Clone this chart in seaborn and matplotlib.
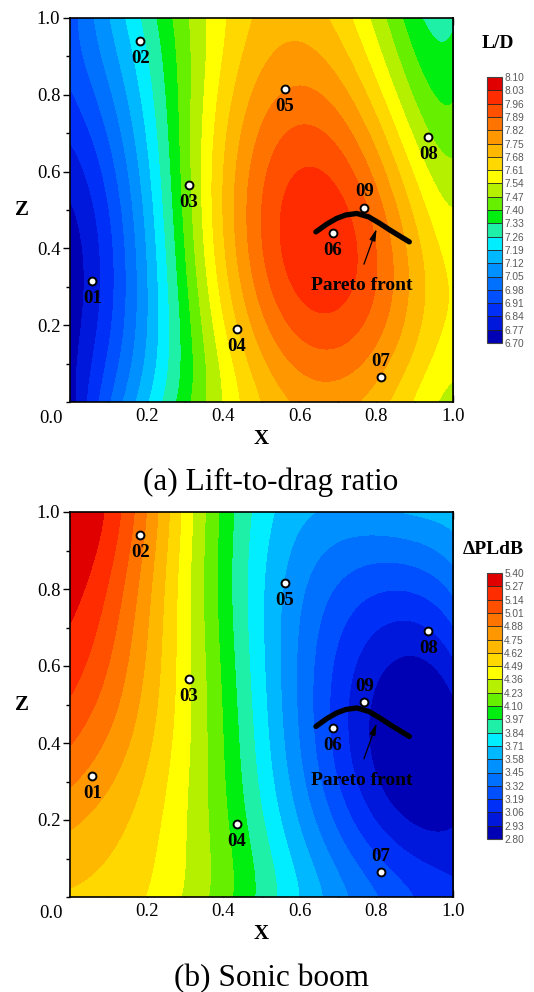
import numpy as np
import pandas as pd
import seaborn as sns
import matplotlib
matplotlib.use('Agg')
import matplotlib.pyplot as plt
from matplotlib.ticker import MultipleLocator

sns.set_style('ticks')
plt.rcParams['font.family'] = ['Liberation Serif', 'DejaVu Serif']
plt.rcParams['text.color'] = 'black'
plt.rcParams['axes.labelcolor'] = 'black'
plt.rcParams['xtick.color'] = 'black'
plt.rcParams['ytick.color'] = 'black'

x_grid = [0.0, 0.1, 0.2, 0.3, 0.4, 0.5, 0.6, 0.7, 0.8, 0.9, 1.0]
z_grid = [0.0, 0.1, 0.2, 0.3, 0.4, 0.5, 0.6, 0.7, 0.8, 0.9, 1.0]

# lift-to-drag ratio, one row per z value
ld_values = [
    [6.76, 6.92, 7.17, 7.38, 7.57, 7.67, 7.76, 7.77, 7.72, 7.62, 7.50],
    [6.74, 6.90, 7.15, 7.37, 7.58, 7.71, 7.83, 7.83, 7.78, 7.68, 7.56],
    [6.72, 6.88, 7.14, 7.38, 7.60, 7.76, 7.92, 7.92, 7.84, 7.72, 7.60],
    [6.72, 6.88, 7.14, 7.38, 7.61, 7.81, 8.04, 8.00, 7.86, 7.72, 7.60],
    [6.73, 6.89, 7.13, 7.39, 7.62, 7.85, 8.10, 8.03, 7.85, 7.70, 7.58],
    [6.76, 6.92, 7.14, 7.41, 7.64, 7.86, 8.09, 8.00, 7.82, 7.66, 7.55],
    [6.80, 6.96, 7.15, 7.44, 7.66, 7.85, 8.01, 7.93, 7.75, 7.60, 7.50],
    [6.85, 7.00, 7.18, 7.45, 7.66, 7.81, 7.91, 7.86, 7.69, 7.54, 7.44],
    [6.89, 7.04, 7.21, 7.45, 7.65, 7.77, 7.83, 7.79, 7.63, 7.48, 7.39],
    [6.93, 7.08, 7.24, 7.45, 7.64, 7.72, 7.76, 7.71, 7.56, 7.42, 7.34],
    [6.96, 7.10, 7.26, 7.46, 7.63, 7.69, 7.70, 7.65, 7.51, 7.38, 7.30],
]

# sonic boom loudness, one row per z value
boom_values = [
    [4.62, 4.56, 4.48, 4.32, 4.17, 3.95, 3.72, 3.48, 3.32, 3.18, 3.08],
    [4.67, 4.61, 4.52, 4.38, 4.17, 3.90, 3.60, 3.40, 3.22, 3.08, 3.02],
    [4.77, 4.69, 4.56, 4.38, 4.13, 3.85, 3.56, 3.30, 3.08, 2.91, 2.88],
    [4.90, 4.79, 4.60, 4.40, 4.08, 3.80, 3.50, 3.20, 2.94, 2.82, 2.83],
    [5.02, 4.87, 4.64, 4.38, 4.07, 3.80, 3.48, 3.10, 2.85, 2.81, 2.84],
    [5.12, 4.94, 4.68, 4.40, 4.08, 3.78, 3.48, 3.10, 2.84, 2.82, 2.91],
    [5.20, 5.01, 4.74, 4.40, 4.05, 3.75, 3.50, 3.20, 2.86, 2.92, 3.05],
    [5.26, 5.06, 4.80, 4.41, 4.03, 3.70, 3.49, 3.27, 2.98, 3.08, 3.18],
    [5.32, 5.11, 4.85, 4.42, 4.02, 3.66, 3.48, 3.32, 3.20, 3.22, 3.32],
    [5.36, 5.14, 4.89, 4.44, 4.03, 3.72, 3.55, 3.44, 3.40, 3.42, 3.50],
    [5.38, 5.17, 4.92, 4.46, 4.05, 3.78, 3.62, 3.55, 3.55, 3.58, 3.65],
]

ld_levels = [6.70, 6.77, 6.84, 6.91, 6.98, 7.05, 7.12, 7.19, 7.26, 7.33, 7.40,
             7.47, 7.54, 7.61, 7.68, 7.75, 7.82, 7.89, 7.96, 8.03, 8.10]
boom_levels = [2.80, 2.93, 3.06, 3.19, 3.32, 3.45, 3.58, 3.71, 3.84, 3.97, 4.10,
               4.23, 4.36, 4.49, 4.62, 4.75, 4.88, 5.01, 5.14, 5.27, 5.40]

# design points
point_names = ['01', '02', '03', '04', '05', '06', '07', '08', '09']
point_x = [0.058, 0.183, 0.31, 0.435, 0.561, 0.686, 0.811, 0.936, 0.768]
point_z = [0.315, 0.94, 0.565, 0.189, 0.815, 0.439, 0.064, 0.691, 0.506]
label_side = ['below', 'below', 'below', 'below', 'below', 'below', 'above', 'below', 'above']

# pareto front
pareto_x = [0.642, 0.67, 0.696, 0.72, 0.749, 0.78, 0.809, 0.835, 0.853, 0.886]
pareto_z = [0.443, 0.463, 0.478, 0.487, 0.491, 0.482, 0.465, 0.448, 0.437, 0.417]

x_ticks = [0.0, 0.2, 0.4, 0.6, 0.8, 1.0]
x_ticklabels = ['', '0.2', '0.4', '0.6', '0.8', '1.0']
z_ticks = [0.2, 0.4, 0.6, 0.8, 1.0]
z_ticklabels = ['0.2', '0.4', '0.6', '0.8', '1.0']

# tecplot-like banded rainbow
band_colors = ['#0000b4', '#0018dc', '#0030f8', '#0050ff', '#0070ff',
               '#0090ff', '#00b8ff', '#00eeff', '#1ef0a8', '#00ee10',
               '#66f000', '#b4f000', '#ffff00', '#ffd800', '#ffb800',
               '#ff9800', '#ff7400', '#ff5000', '#ff2c00', '#e00000']

pts = pd.DataFrame({'name': point_names, 'x': point_x, 'z': point_z, 'side': label_side})

W, H = 534, 992
fig = plt.figure(figsize=(W / 100, H / 100), dpi=100)


def px_box(left, top, right, bottom):
    return [left / W, 1 - bottom / H, (right - left) / W, (bottom - top) / H]


# smooth surface through the read grid (least squares, like a response surface)
gx, gz = np.meshgrid(x_grid, z_grid)
xf, zf = np.meshgrid(np.linspace(0, 1, 301), np.linspace(0, 1, 301))
powers = [(i, j) for i in range(7) for j in range(7) if i + j <= 6]


def smooth(values):
    A = np.column_stack([gx.ravel() ** i * gz.ravel() ** j for i, j in powers])
    coef, *_ = np.linalg.lstsq(A, np.array(values).ravel(), rcond=None)
    return sum(c * xf ** i * zf ** j for c, (i, j) in zip(coef, powers))


def panel(ax, cax, values, levels, cbar_title, title_xy, caption, caption_y):
    field = np.clip(smooth(values), levels[0] + 1e-6, levels[-1] - 1e-6)
    cs = ax.contourf(xf, zf, field, levels=levels, colors=band_colors)

    # pareto front and arrow
    sns.lineplot(x=pareto_x, y=pareto_z, ax=ax, color='black', lw=3.8, sort=False,
                 solid_capstyle='round', zorder=4)
    ax.annotate('', xy=(0.803, 0.458), xytext=(0.765, 0.352),
                arrowprops=dict(arrowstyle='-|>,head_length=0.7,head_width=0.18',
                                color='black', lw=0.9), zorder=4)
    ax.text(0.762, 0.303, 'Pareto front', ha='center', va='center',
            fontsize=14, fontweight='bold')

    sns.scatterplot(data=pts, x='x', y='z', ax=ax, s=32, color='white',
                    edgecolor='black', linewidth=1.4, zorder=5, legend=False)
    for _, r in pts.iterrows():
        dy = -12.5 if r['side'] == 'below' else 11.5
        ax.annotate(r['name'], (r['x'], r['z']), xytext=(0, dy), textcoords='offset points',
                    ha='center', va='center', fontsize=13.5, fontweight='bold')

    ax.set_xlim(0, 1)
    ax.set_ylim(0, 1)
    ax.set_xticks(x_ticks)
    ax.set_xticklabels(x_ticklabels)
    ax.set_yticks(z_ticks)
    ax.set_yticklabels(z_ticklabels)
    ax.xaxis.set_minor_locator(MultipleLocator(0.1))
    ax.yaxis.set_minor_locator(MultipleLocator(0.1))
    ax.tick_params(axis='x', which='both', direction='in', top=True, bottom=True,
                   length=5, width=1.0, labelsize=13.5, pad=4)
    ax.tick_params(axis='y', which='major', direction='out', left=True, right=False,
                   length=5, width=1.0, labelsize=13.5, pad=2)
    ax.tick_params(axis='y', which='minor', direction='out', left=True, right=False,
                   length=3, width=1.0)
    sec = ax.secondary_yaxis('right')
    sec.set_yticks([0.1, 0.2, 0.3, 0.4, 0.5, 0.6, 0.7, 0.8, 0.9])
    sec.tick_params(direction='in', length=5, width=1.0, labelright=False)
    sec.spines['right'].set_linewidth(1.2)
    for sp in ax.spines.values():
        sp.set_color('black')
        sp.set_linewidth(1.2)
        sp.set_visible(True)
    ax.annotate('0.0', (0, 0), xytext=(-14, -5.5), textcoords='offset points',
                ha='center', va='top', fontsize=13.5)
    ax.set_xlabel('X', fontsize=15, fontweight='bold', labelpad=3)
    ax.set_ylabel('Z', fontsize=15, fontweight='bold', rotation=0, ha='center', va='center')
    ax.yaxis.set_label_coords(-0.125, 0.5)

    cb = fig.colorbar(cs, cax=cax, ticks=levels, drawedges=True)
    cb.outline.set_edgecolor('#444444')
    cb.outline.set_linewidth(0.8)
    cb.dividers.set_color('#222222')
    cb.dividers.set_linewidth(0.6)
    cb.ax.set_yticklabels(['%.2f' % v for v in levels], fontsize=7.3, color='#5a5a5a',
                          family='Liberation Sans')
    cb.ax.tick_params(length=0, pad=1.5)

    fig.text(title_xy[0] / W, 1 - title_xy[1] / H, cbar_title, ha='center', va='center',
             fontsize=14, fontweight='bold')
    fig.text(271 / W, 1 - caption_y / H, caption, ha='center', va='center', fontsize=22.5)


ax_top = fig.add_axes(px_box(70, 18, 453, 402))
cax_top = fig.add_axes(px_box(487, 77, 502, 343))
ax_bot = fig.add_axes(px_box(70, 512, 453, 897))
cax_bot = fig.add_axes(px_box(487, 573, 502, 839))

panel(ax_top, cax_top, ld_values, ld_levels, 'L/D', (498, 43), '(a) Lift-to-drag ratio', 482)
panel(ax_bot, cax_bot, boom_values, boom_levels, '\u0394PLdB', (493, 550), '(b) Sonic boom', 979)

fig.savefig('out.png', dpi=100)
